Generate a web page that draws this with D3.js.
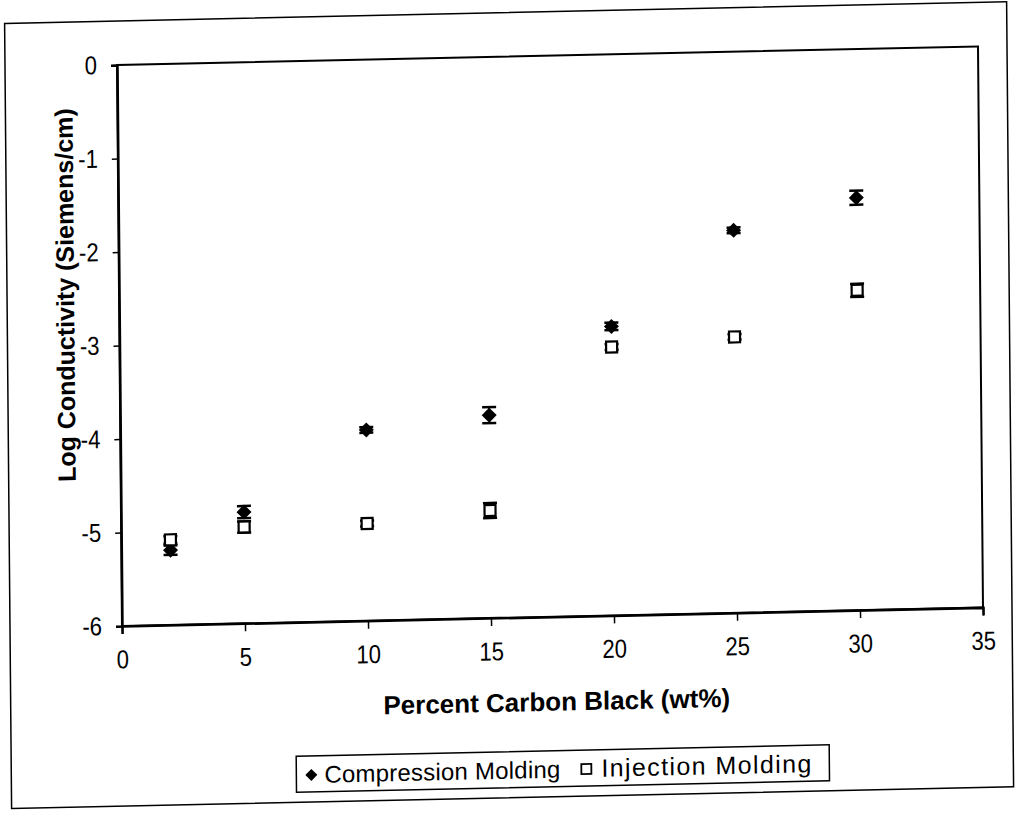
<!DOCTYPE html>
<html>
<head>
<meta charset="utf-8">
<script src="https://cdn.jsdelivr.net/npm/d3@7"></script>
<style>
  html, body { margin: 0; padding: 0; background: #fff; }
  svg { display: block; }
</style>
</head>
<body>
<svg id="chart" width="1018" height="814"></svg>
<script>
// ---- data ----
const percentCarbon = [2, 5, 10, 15, 20, 25, 30];
const compressionMolding = [-5.20, -4.81, -3.96, -3.83, -2.91, -1.91, -1.59];
const compressionErr = [0.05, 0.065, 0.03, 0.085, 0.04, 0.03, 0.075];
const injectionMolding = [-5.09, -4.97, -4.96, -4.85, -3.13, -3.05, -2.58];
const injectionErr = [0.04, 0.06, 0.03, 0.08, 0.03, 0.03, 0.07];
const xTickValues = [0, 5, 10, 15, 20, 25, 30, 35];
const yTickValues = [0, -1, -2, -3, -4, -5, -6];
const seriesNames = ["Compression Molding", "Injection Molding"];
const xTitle = "Percent Carbon Black (wt%)";
const yTitle = "Log Conductivity (Siemens/cm)";

// ---- layout ----
const plot = { left: 117, top: 65, width: 861, height: 561 };
const svg = d3.select("#chart");
svg.append("rect").attr("width", 1018).attr("height", 814).attr("fill", "#fff");

// scanned page is slightly skewed
const root = svg.append("g")
  .attr("transform", `translate(${plot.left},${plot.top}) matrix(1,-0.0216,0.0089,1,0,0) translate(${-plot.left},${-plot.top})`);

const font = "'Liberation Sans', Arial, Helvetica, sans-serif";
const narrow = 0.85;

// outer frame
root.append("rect")
  .attr("x", 5).attr("y", 21).attr("width", 1002).attr("height", 785)
  .attr("fill", "none").attr("stroke", "#000").attr("stroke-width", 1.5);

const x = d3.scaleLinear().domain([0, 35]).range([plot.left, plot.left + plot.width]);
const y = d3.scaleLinear().domain([-6, 0]).range([plot.top + plot.height, plot.top]);

// plot area border
root.append("rect")
  .attr("x", plot.left).attr("y", plot.top)
  .attr("width", plot.width).attr("height", plot.height)
  .attr("fill", "none").attr("stroke", "#000").attr("stroke-width", 2);

// axes
const xAxis = d3.axisBottom(x).tickValues(xTickValues).tickSize(8).tickPadding(16).tickFormat(d3.format("d"));
const yAxis = d3.axisLeft(y).tickValues(yTickValues).tickSize(6).tickPadding(14).tickFormat(d => d3.format("d")(d).replace("\u2212", "-"));

const gx = root.append("g").attr("transform", `translate(0,${plot.top + plot.height})`).call(xAxis);
const gy = root.append("g").attr("transform", `translate(${plot.left},0)`).call(yAxis);
[gx, gy].forEach(g => {
  g.select(".domain").attr("stroke", "#000").attr("stroke-width", 2.5);
  g.selectAll(".tick line").attr("stroke", "#000").attr("stroke-width", 1.5);
  g.selectAll(".tick text").attr("fill", "#000").attr("font-family", font).attr("font-size", 26);
});
// condensed look of the printed tick labels
gx.selectAll(".tick text").attr("transform", `scale(${narrow},1)`);
gy.selectAll(".tick text").each(function () {
  const t = d3.select(this);
  t.attr("x", +t.attr("x") / narrow).attr("transform", `scale(${narrow},1)`);
});

// axis titles
root.append("text")
  .attr("x", plot.left + 434).attr("y", 720)
  .attr("text-anchor", "middle")
  .attr("font-family", font).attr("font-weight", "bold").attr("font-size", 26)
  .text(xTitle);

root.append("text")
  .attr("transform", `translate(72,${plot.top + 229}) rotate(-90)`)
  .attr("text-anchor", "middle")
  .attr("font-family", font).attr("font-weight", "bold").attr("font-size", 25)
  .text(yTitle);

// error bars
function errorBars(vals, errs) {
  const g = root.append("g");
  percentCarbon.forEach((c, i) => {
    const cx = x(c), y1 = y(vals[i] + errs[i]), y2 = y(vals[i] - errs[i]);
    g.append("line").attr("x1", cx).attr("x2", cx).attr("y1", y1).attr("y2", y2).attr("stroke", "#000").attr("stroke-width", 2);
    [y1, y2].forEach(yy => g.append("line").attr("x1", cx - 7).attr("x2", cx + 7).attr("y1", yy).attr("y2", yy).attr("stroke", "#000").attr("stroke-width", 2.5));
  });
}
errorBars(compressionMolding, compressionErr);
errorBars(injectionMolding, injectionErr);

const diamondPath = "M0,-7.5L7.5,0L0,7.5L-7.5,0Z";

// compression markers (filled diamonds)
root.append("g").selectAll("path")
  .data(percentCarbon.map((c, i) => [c, compressionMolding[i]]))
  .join("path")
  .attr("transform", d => `translate(${x(d[0])},${y(d[1])})`)
  .attr("d", diamondPath)
  .attr("fill", "#000");

// injection markers (open squares)
root.append("g").selectAll("rect")
  .data(percentCarbon.map((c, i) => [c, injectionMolding[i]]))
  .join("rect")
  .attr("x", d => x(d[0]) - 5.5).attr("y", d => y(d[1]) - 5.5)
  .attr("width", 11).attr("height", 11)
  .attr("fill", "#fff").attr("stroke", "#000").attr("stroke-width", 2.2);

// legend
const lg = root.append("g");
lg.append("rect").attr("x", 290).attr("y", 760).attr("width", 533).attr("height", 36)
  .attr("fill", "#fff").attr("stroke", "#000").attr("stroke-width", 1.5);
lg.append("path").attr("d", "M0,-6L6,0L0,6L-6,0Z").attr("transform", "translate(305,779)").attr("fill", "#000");
lg.append("text").attr("x", 318).attr("y", 787).attr("font-family", font).attr("font-size", 24)
  .attr("textLength", 236).attr("lengthAdjust", "spacing").text(seriesNames[0]);
lg.append("rect").attr("x", 575).attr("y", 774).attr("width", 10).attr("height", 10)
  .attr("fill", "#fff").attr("stroke", "#000").attr("stroke-width", 1.8);
lg.append("text").attr("x", 595).attr("y", 787).attr("font-family", font).attr("font-size", 25)
  .attr("textLength", 210).attr("lengthAdjust", "spacing").text(seriesNames[1]);
</script>
</body>
</html>
